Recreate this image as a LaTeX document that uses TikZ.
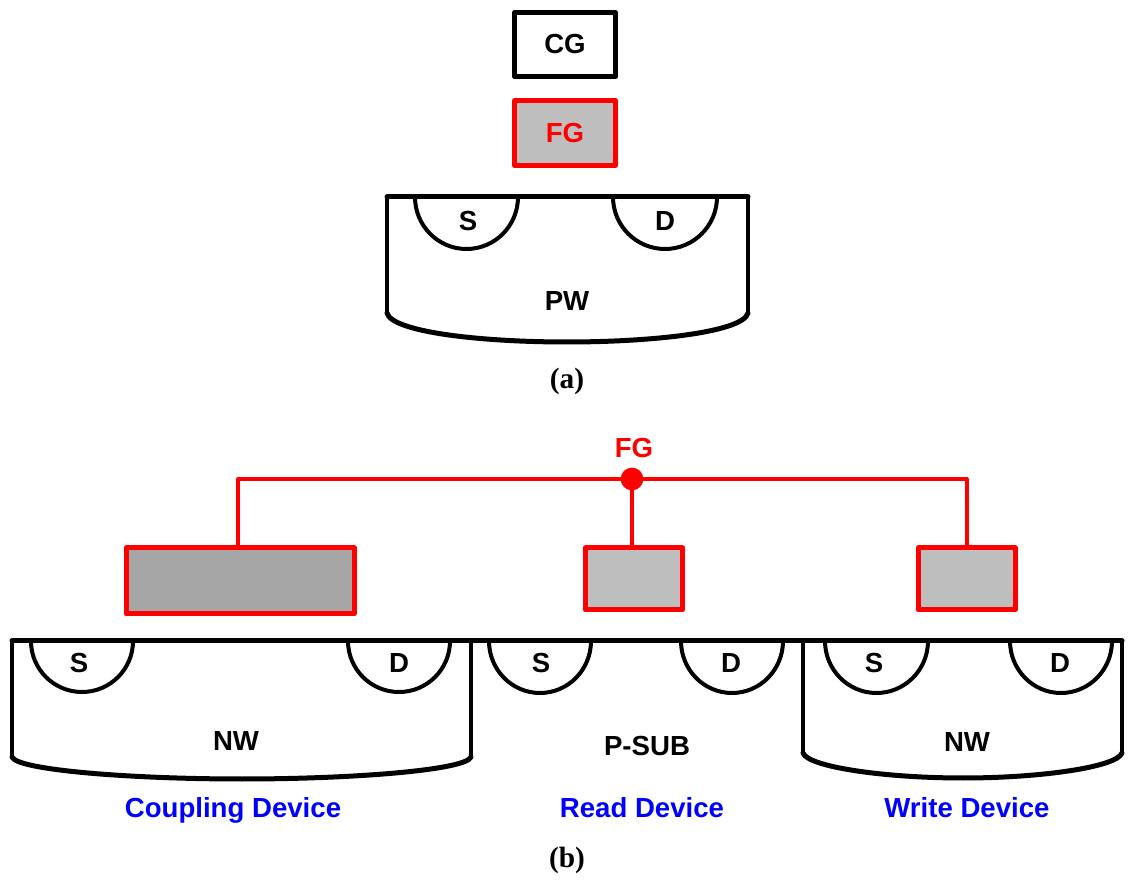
\documentclass[tikz,border=0pt]{standalone}
\usepackage{fontspec}
\setmainfont{Liberation Sans}
\newfontfamily\capfont{Liberation Serif}
\definecolor{fglight}{HTML}{BEBEBE}
\definecolor{fgdark}{HTML}{A6A6A6}
\definecolor{devblue}{HTML}{0000FF}

\begin{document}
\begin{tikzpicture}[
    % One unit is one pixel of the drawing, with y running downwards.
    x=0.75pt,
    y=-0.75pt,
    line join=round
]
    % --- Style Definitions ---
    \tikzstyle{gate} = [draw, line width=3.75pt, inner sep=0pt, font=\bfseries\fontsize{20.7}{24}\selectfont]
    \tikzstyle{fgate} = [gate, draw=red]
    \tikzstyle{label} = [inner sep=0pt, text height=14.8pt, text depth=0pt, font=\bfseries\fontsize{20.7}{24}\selectfont]
    \tikzstyle{devlabel} = [label, text=devblue]
    \tikzstyle{caption} = [inner sep=0pt, font=\capfont\bfseries\fontsize{22}{26}\selectfont]
    \tikzstyle{surface} = [draw, line width=3.75pt, line cap=round]
    \tikzstyle{well} = [draw, line width=3pt]
    \tikzstyle{wellbase} = [draw, line width=3.75pt, line cap=round]
    \tikzstyle{wire} = [draw, red, line width=3pt]

    \useasboundingbox (0,0) rectangle (1133,880);

    % --- Part (a) ---
    \node[gate, minimum width=75.75pt, minimum height=48pt] (cgBox) at (565,44.5) {CG};
    \node[fgate, fill=fglight, text=red, minimum width=75.75pt, minimum height=48.75pt] (fgBox) at (565,133) {FG};

    \draw[well] (387,197) -- (387,313);
    \draw[well] (748,197) -- (748,313);
    \draw[wellbase] (387,313) .. controls (392,332) and (480,342) .. (567,342)
        .. controls (654,342) and (743,332) .. (748,313);
    \draw[well] (415,197) arc[start angle=180, end angle=0, x radius=51.5, y radius=52];
    \draw[well] (613,197) arc[start angle=180, end angle=0, x radius=52, y radius=52];
    \draw[surface] (387,197) -- (748,197);

    \node[label] (pwS) at (468,221) {S};
    \node[label] (pwD) at (665,221) {D};
    \node[label] (pwName) at (567,301) {PW};
    \node[caption] (capA) at (567,381) {(a)};

    % --- Part (b): floating gate plates ---
    \node[fgate, fill=fgdark, minimum width=171pt, minimum height=49.5pt] (coupBox) at (240,581) {};
    \node[fgate, fill=fglight, minimum width=72.75pt, minimum height=46.5pt] (readBox) at (634,579) {};
    \node[fgate, fill=fglight, minimum width=72.75pt, minimum height=46.5pt] (writeBox) at (966.5,579) {};

    % --- Part (b): floating gate wiring ---
    \node[circle, fill=red, inner sep=0pt, minimum size=17pt] (fgDot) at (632,479) {};
    \node[red, label] (fgName) at (634,448) {FG};
    \coordinate (tapCoup) at (238,479);
    \draw[wire] (fgDot.center) -- (tapCoup) -- (tapCoup |- coupBox.north);
    \draw[wire] (fgDot.center) -- (fgDot.center |- readBox.north);
    \draw[wire] (fgDot.center) -| (writeBox.north);

    % --- Part (b): wells and diffusions ---
    \draw[well] (12,641) -- (12,757);
    \draw[well] (471,641) -- (471,757);
    \draw[wellbase] (12,757) .. controls (17,770) and (130,779) .. (242,779)
        .. controls (354,779) and (466,770) .. (471,757);
    \draw[well] (803,641) -- (803,753);
    \draw[well] (1122,641) -- (1122,753);
    \draw[wellbase] (803,753) .. controls (808,767) and (885,778) .. (963,778)
        .. controls (1041,778) and (1117,767) .. (1122,753);
    \draw[well] (31,641) arc[start angle=180, end angle=0, x radius=51, y radius=51];
    \draw[well] (348,641) arc[start angle=180, end angle=0, x radius=51, y radius=51];
    \draw[well] (489,641) arc[start angle=180, end angle=0, x radius=51, y radius=52];
    \draw[well] (681,641) arc[start angle=180, end angle=0, x radius=51, y radius=52];
    \draw[well] (825,641) arc[start angle=180, end angle=0, x radius=51.5, y radius=52];
    \draw[well] (1010,641) arc[start angle=180, end angle=0, x radius=51, y radius=52];
    \draw[surface] (12,641) -- (1122,641);

    % --- Part (b): labels ---
    \node[label] (coupS) at (79,663) {S};
    \node[label] (coupD) at (399,663) {D};
    \node[label] (readS) at (541,663) {S};
    \node[label] (readD) at (731,663) {D};
    \node[label] (writeS) at (874,663) {S};
    \node[label] (writeD) at (1060,663) {D};
    \node[label] (coupName) at (236,741) {NW};
    \node[label] (subName) at (647,746) {P-SUB};
    \node[label] (writeName) at (967,742) {NW};
    \node[devlabel] (coupDev) at (233,808) {Coupling Device};
    \node[devlabel] (readDev) at (642,808) {Read Device};
    \node[devlabel] (writeDev) at (967,808) {Write Device};
    \node[caption] (capB) at (567,860) {(b)};
\end{tikzpicture}
\end{document}
